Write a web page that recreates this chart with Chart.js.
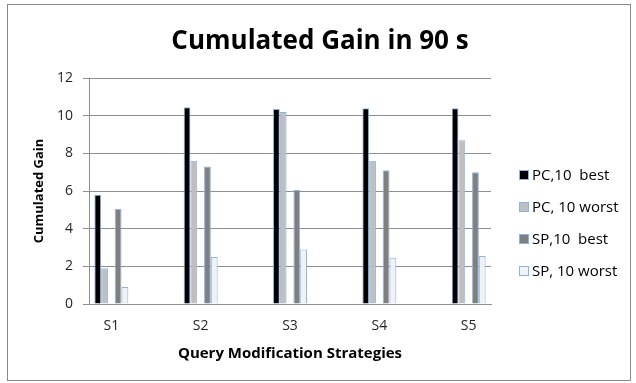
<!DOCTYPE html>
<html>
<head>
<meta charset="utf-8">
<script src="https://cdn.jsdelivr.net/npm/chart.js@4.4.1/dist/chart.umd.min.js"></script>
<style>
  html, body { margin: 0; padding: 0; background: #ffffff; }
  canvas { display: block; }
</style>
</head>
<body>
<canvas id="chart" width="636" height="383"></canvas>
<script>
// Cumulated gain per query modification strategy
const categories = ['S1', 'S2', 'S3', 'S4', 'S5'];
const seriesNames = ['PC,10  best', 'PC, 10 worst', 'SP,10  best', 'SP, 10 worst'];
const pcBest   = [5.8, 10.45, 10.35, 10.4, 10.4];
const pcWorst  = [1.9, 7.6, 10.2, 7.6, 8.7];
const spBest   = [5.05, 7.3, 6.05, 7.1, 7.0];
const spWorst  = [0.9, 2.5, 2.9, 2.45, 2.55];
const yTickValues = [0, 2, 4, 6, 8, 10, 12];

const chartTitle = 'Cumulated Gain in 90 s';
const yAxisTitle = 'Cumulated Gain';
const xAxisTitle = 'Query Modification Strategies';

const FONT = '"Open Sans", Lato, sans-serif';
const GRID = '#8f8f8f';
const EDGE = '#8db3e2';

const toPoints = vals => vals.map((v, i) => ({ x: i, y: v }));

const bar = (label, values, fill) => ({
  label,
  data: toPoints(values),
  backgroundColor: fill,
  borderColor: EDGE,
  borderWidth: 1
});

// an empty slot separates the PC pair from the SP pair in every group
const gap = {
  label: '',
  data: categories.map((c, i) => ({ x: i, y: null })),
  backgroundColor: 'rgba(0,0,0,0)',
  borderWidth: 0
};

const datasets = [
  bar(seriesNames[0], pcBest, '#000000'),
  bar(seriesNames[1], pcWorst, '#bfbfbf'),
  gap,
  bar(seriesNames[2], spBest, '#7f7f7f'),
  bar(seriesNames[3], spWorst, '#f2f2f2')
];

// frame, heading and side legend
const decorations = {
  id: 'decorations',
  beforeDraw(chart) {
    const ctx = chart.ctx;
    ctx.save();
    ctx.strokeStyle = '#8a8a8a';
    ctx.lineWidth = 1;
    ctx.strokeRect(7.5, 4.5, 623, 376);
    ctx.restore();
  },
  afterDraw(chart) {
    const ctx = chart.ctx;
    ctx.save();
    ctx.fillStyle = '#000000';
    ctx.font = 'bold 26px ' + FONT;
    ctx.textAlign = 'center';
    ctx.textBaseline = 'middle';
    ctx.fillText(chartTitle, 320, 42);

    const items = chart.data.datasets.filter(d => d.label);
    const x0 = chart.chartArea.right + 28;
    const y0 = 175;
    const step = 32;
    ctx.font = '15px ' + FONT;
    ctx.textAlign = 'left';
    items.forEach((d, i) => {
      const y = y0 + i * step;
      ctx.fillStyle = d.backgroundColor;
      ctx.fillRect(x0, y - 5, 10, 10);
      ctx.strokeStyle = d.borderColor;
      ctx.lineWidth = 1;
      ctx.strokeRect(x0 + 0.5, y - 4.5, 9, 9);
      ctx.fillStyle = '#000000';
      ctx.fillText(d.label, x0 + 13, y + 1);
    });
    ctx.restore();
  }
};

new Chart(document.getElementById('chart'), {
  type: 'bar',
  data: { datasets },
  options: {
    responsive: false,
    animation: false,
    layout: { padding: { left: 0, top: 78, right: 145, bottom: 0 } },
    plugins: {
      legend: { display: false },
      title: { display: false },
      tooltip: { enabled: false }
    },
    datasets: {
      bar: { categoryPercentage: 0.38, barPercentage: 1 }
    },
    scales: {
      x: {
        type: 'linear',
        offset: false,
        min: -0.25,
        max: 4.25,
        afterBuildTicks: s => { s.ticks = categories.map((c, i) => ({ value: i })); },
        afterFit: s => { s.height = 79; },
        grid: { display: false, drawTicks: false, offset: false },
        border: { display: true, color: GRID, width: 1 },
        ticks: {
          padding: 14,
          color: '#262626',
          font: { family: FONT, size: 14 },
          callback: v => categories[v]
        },
        title: {
          display: true,
          text: xAxisTitle,
          color: '#000000',
          font: { family: FONT, size: 15, weight: 'bold' },
          padding: { top: 6, bottom: 20 }
        }
      },
      y: {
        min: 0,
        max: 12,
        afterBuildTicks: s => { s.ticks = yTickValues.map(v => ({ value: v })); },
        afterFit: s => { s.width = 89; },
        grid: { color: GRID, lineWidth: 1, tickLength: 6, drawTicks: true },
        border: { display: true, color: GRID, width: 1 },
        ticks: {
          padding: 10,
          color: '#262626',
          font: { family: FONT, size: 14 }
        },
        title: {
          display: true,
          text: yAxisTitle,
          color: '#000000',
          font: { family: FONT, size: 13, weight: 'bold' },
          padding: { top: 31, bottom: 0 }
        }
      }
    }
  },
  plugins: [decorations]
});
</script>
</body>
</html>
